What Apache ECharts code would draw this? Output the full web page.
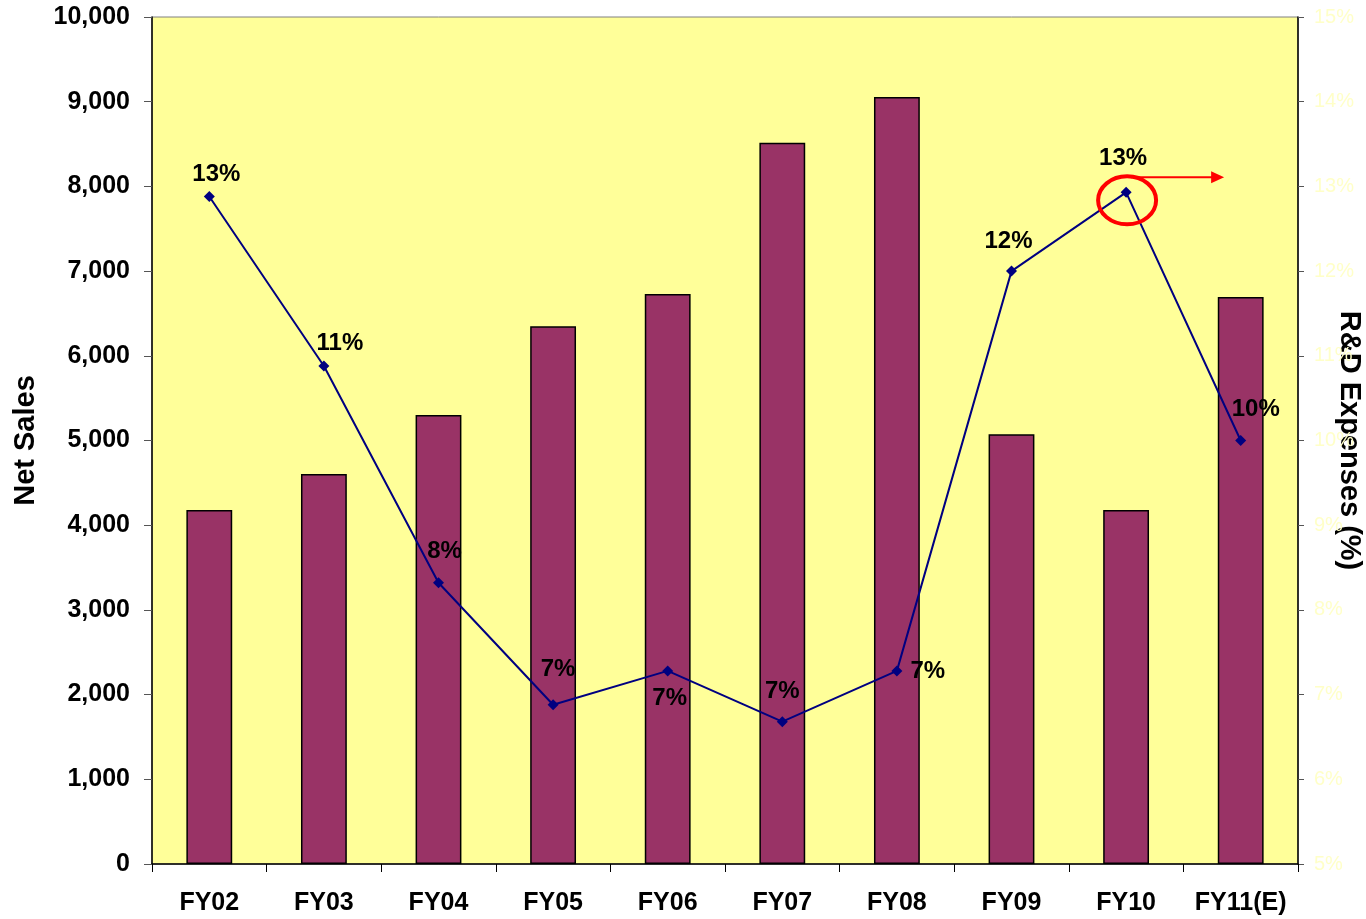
<!DOCTYPE html>
<html>
<head>
<meta charset="utf-8">
<script src="https://cdn.jsdelivr.net/npm/echarts@6/dist/echarts.min.js"></script>
<style>
  html, body { margin: 0; padding: 0; background: #fff; }
  #chart { width: 1366px; height: 919px; }
</style>
</head>
<body>
<div id="chart"></div>
<script>
var categories = ["FY02", "FY03", "FY04", "FY05", "FY06", "FY07", "FY08", "FY09", "FY10", "FY11(E)"];
var netSales = [4180, 4605, 5300, 6350, 6730, 8515, 9055, 5075, 4180, 6695];
var rdPercent = [12.88, 10.88, 8.32, 6.88, 7.28, 6.68, 7.28, 12.0, 12.93, 10.0];
var rdLabels = ["13%", "11%", "8%", "7%", "7%", "7%", "7%", "12%", "13%", "10%"];
// where each percentage label sits relative to its point
var labelPlace = [
  { position: "top", offset: [7, 0] },
  { position: "top", offset: [16, 0] },
  { position: "top", offset: [6, -9] },
  { position: "top", offset: [5, -13] },
  { position: "bottom", offset: [2, 5] },
  { position: "top", offset: [0, -8] },
  { position: "right", offset: [3, 0] },
  { position: "top", offset: [-3, -7] },
  { position: "top", offset: [-3, -11] },
  { position: "top", offset: [15, -9] }
];

var chart = echarts.init(document.getElementById("chart"));
var font = "Liberation Sans, Arial, sans-serif";

var lineData = rdPercent.map(function (v, i) {
  return {
    value: v,
    label: {
      show: true,
      position: labelPlace[i].position,
      offset: labelPlace[i].offset,
      formatter: rdLabels[i]
    }
  };
});

var option = {
  animation: false,
  grid: {
    left: 152,
    right: 68,
    top: 17,
    bottom: 55,
    outerBoundsMode: "none",
    containLabel: false,
    show: true,
    backgroundColor: "#FFFF99",
    borderColor: "#808080",
    borderWidth: 1
  },
  xAxis: {
    type: "category",
    data: categories,
    axisLine: { lineStyle: { color: "#000", width: 1.5 } },
    axisTick: { show: true, length: 8, lineStyle: { color: "#000" } },
    axisLabel: {
      color: "#000",
      fontFamily: font,
      fontWeight: "bold",
      fontSize: 25,
      margin: 27,
      interval: 0
    }
  },
  yAxis: [
    {
      type: "value",
      min: 0,
      max: 10000,
      interval: 1000,
      name: "Net Sales",
      nameLocation: "middle",
      nameGap: 112,
      nameTextStyle: { color: "#000", fontFamily: font, fontWeight: "bold", fontSize: 29 },
      axisLine: { show: true, lineStyle: { color: "#000", width: 1.5 } },
      axisTick: { show: true, length: 8, lineStyle: { color: "#555" } },
      splitLine: { show: false },
      axisLabel: {
        color: "#000",
        fontFamily: font,
        fontWeight: "bold",
        fontSize: 25,
        margin: 22,
        formatter: function (v) { return v.toLocaleString("en-US"); }
      }
    },
    {
      type: "value",
      min: 5,
      max: 15,
      interval: 1,
      position: "right",
      name: "R&D Expenses (%)",
      nameLocation: "middle",
      nameRotate: -90,
      nameGap: 36,
      nameMoveOverlap: false,
      nameTextStyle: { color: "#000", fontFamily: font, fontWeight: "bold", fontSize: 29 },
      axisLine: { show: true, lineStyle: { color: "#000", width: 1.5 } },
      axisTick: { show: true, length: 6, lineStyle: { color: "#555" } },
      splitLine: { show: false },
      axisLabel: {
        color: "#FFFFC8",
        fontFamily: font,
        fontSize: 20,
        margin: 16,
        formatter: "{value}%"
      }
    }
  ],
  series: [
    {
      name: "Net Sales",
      type: "bar",
      yAxisIndex: 0,
      barWidth: "40%",
      data: netSales,
      itemStyle: { color: "#993366", borderColor: "#000", borderWidth: 1.5 }
    },
    {
      name: "R&D Expenses (%)",
      type: "line",
      yAxisIndex: 1,
      data: lineData,
      symbol: "diamond",
      symbolSize: 11,
      lineStyle: { color: "#000080", width: 2 },
      itemStyle: { color: "#000080" },
      label: {
        color: "#000",
        fontFamily: font,
        fontWeight: "bold",
        fontSize: 24,
        distance: 5
      },
      z: 3
    }
  ]
};

chart.setOption(option);

// red highlight around the FY10 point and the arrow to the right
var hi = 8;
var p = chart.convertToPixel({ seriesIndex: 1 }, [hi, rdPercent[hi]]);
var cx = p[0] + 1, cy = p[1] + 8;
var ay = cy - 23;
chart.setOption({
  graphic: [
    {
      type: "ellipse",
      shape: { cx: cx, cy: cy, rx: 29, ry: 24 },
      style: { fill: null, stroke: "#FF0000", lineWidth: 4 },
      z: 10
    },
    {
      type: "line",
      shape: { x1: cx + 4, y1: ay, x2: cx + 86, y2: ay },
      style: { stroke: "#FF0000", lineWidth: 2 },
      z: 10
    },
    {
      type: "polygon",
      shape: { points: [[cx + 84, ay - 6], [cx + 97, ay], [cx + 84, ay + 6]] },
      style: { fill: "#FF0000" },
      z: 10
    }
  ]
});

window.addEventListener("resize", function () {
  chart.resize();
});
</script>
</body>
</html>
